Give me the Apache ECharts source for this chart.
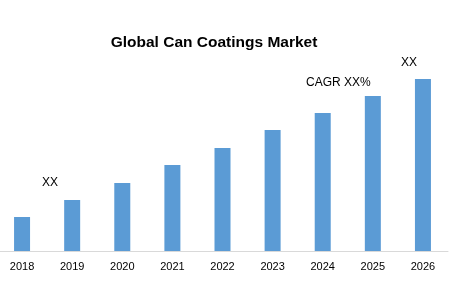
<!DOCTYPE html>
<html>
<head>
<meta charset="utf-8">
<script src="https://cdn.jsdelivr.net/npm/echarts@6/dist/echarts.min.js"></script>
<style>
  html, body { margin: 0; padding: 0; background: #fff; overflow: hidden; }
  #chart { width: 466px; height: 281px; margin-left: -3px; }
</style>
</head>
<body>
<div id="chart"></div>
<script>
var years = ['2018', '2019', '2020', '2021', '2022', '2023', '2024', '2025', '2026'];
var marketValues = [3.4, 5.1, 6.8, 8.6, 10.3, 12.1, 13.8, 15.5, 17.2];

var chart = echarts.init(document.getElementById('chart'));
var font = 'Liberation Sans, Arial, sans-serif';

// container is shifted 3px left, so x positions below are page x + 3
chart.setOption({
  animation: false,
  title: {
    text: 'Global Can Coatings Market',
    left: 212,
    top: 30,
    textAlign: 'center',
    textStyle: { fontFamily: font, fontWeight: 'bold', fontSize: 15.5, color: '#000' }
  },
  graphic: [
    { type: 'text', left: 45, top: 177, style: { text: 'XX', font: '12px ' + font, fill: '#000' } },
    { type: 'text', left: 309, top: 77, style: { text: 'CAGR XX%', font: '12px ' + font, fill: '#000' } },
    { type: 'text', left: 404, top: 57, style: { text: 'XX', font: '12px ' + font, fill: '#000' } }
  ],
  grid: { left: 0, right: 15, top: 51, bottom: 30, containLabel: false },
  xAxis: {
    type: 'category',
    data: years,
    axisLine: { lineStyle: { color: '#d9d9d9', width: 1 } },
    axisTick: { show: false },
    axisLabel: { color: '#000', fontFamily: font, fontSize: 11, margin: 10 }
  },
  yAxis: {
    type: 'value',
    min: 0,
    max: 20,
    show: false,
    splitLine: { show: false }
  },
  series: [{
    type: 'bar',
    data: marketValues,
    barWidth: 16,
    itemStyle: { color: '#5b9bd5' }
  }]
});
</script>
</body>
</html>
